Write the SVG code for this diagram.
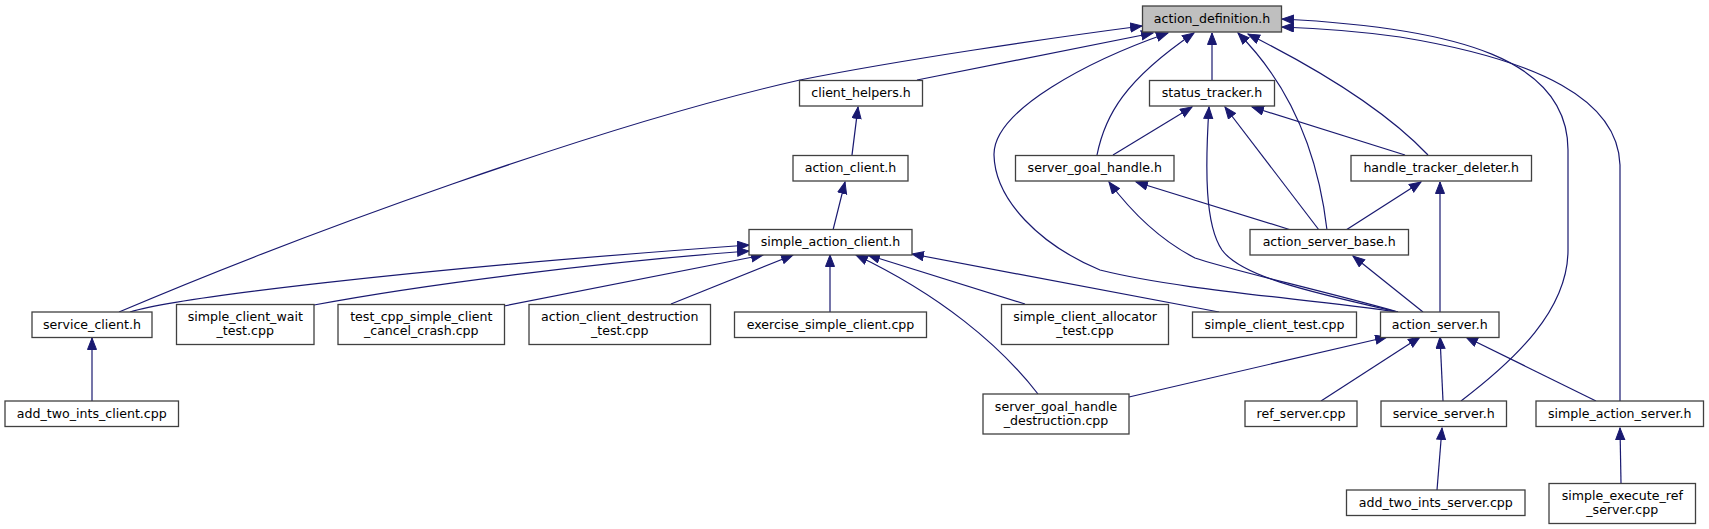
<svg xmlns="http://www.w3.org/2000/svg" width="1709" height="529" viewBox="0 0 1709 529">
<style>
.n rect{fill:#ffffff;stroke:#404040;stroke-width:1.3}
.n.root rect{fill:#bfbfbf}
.n text{font-family:"DejaVu Sans","Liberation Sans",sans-serif;font-size:12.6px;fill:#000;text-anchor:middle}
.e path{fill:none;stroke:#191970;stroke-width:1.2;marker-end:url(#ah)}
</style>
<defs>
<marker id="ah" markerUnits="userSpaceOnUse" markerWidth="14" markerHeight="12" refX="12" refY="5" orient="auto">
<path d="M0.5,0.5 L12,5 L0.5,9.5 z" fill="#191970" stroke="#191970" stroke-width="1"/>
</marker>
</defs>
<rect width="1709" height="529" fill="#ffffff"/>
<g id="edges" class="e">
<path d="M917,80 L1153,33"/>
<path d="M119,312 C300,235 600,125 800,80 C900,60 1050,38 1142,26"/>
<path d="M1212,80 L1212,33"/>
<path d="M1097,155 C1105,115 1125,80 1194,33"/>
<path d="M1398,312 C1300,298 1180,290 1100,270 C1040,245 995,200 994,155 C993,110 1090,60 1168,33"/>
<path d="M1327,230 C1320,170 1300,95 1238,33"/>
<path d="M1428,155 C1390,115 1330,75 1248,34"/>
<path d="M1461,401 C1515,360 1568,310 1568,250 L1568,150 C1568,60 1460,28 1282,19"/>
<path d="M1620,401 L1620,165 C1618,100 1540,60 1400,37 C1350,30 1310,28 1282,27"/>
<path d="M1113,155 L1192,107"/>
<path d="M1319,230 L1225,107"/>
<path d="M1405,155 L1252,107"/>
<path d="M1398,312 C1300,290 1240,275 1222,250 C1205,225 1205,170 1209,107"/>
<path d="M852,155 L858,107"/>
<path d="M833,230 L845,182"/>
<path d="M1291,230 L1136,182"/>
<path d="M1398,312 C1320,290 1230,270 1195,258 C1160,240 1130,210 1109,182"/>
<path d="M1346,230 L1421,182"/>
<path d="M1440,312 L1440,182"/>
<path d="M1423,312 L1353,256"/>
<path d="M130,312 C175,298 400,270 749,245"/>
<path d="M314,305 C420,285 600,262 749,251"/>
<path d="M504,306 L763,255"/>
<path d="M671,304 L793,255"/>
<path d="M830,312 L830,255"/>
<path d="M1038,394 C1000,345 940,295 856,255"/>
<path d="M1025,304 L868,255"/>
<path d="M1219,312 L912,254"/>
<path d="M1129,397 L1387,337"/>
<path d="M1321,401 L1420,337"/>
<path d="M1443,401 L1440,337"/>
<path d="M1596,401 L1466,337"/>
<path d="M92,401 L92,338"/>
<path d="M1437,490 L1442,428"/>
<path d="M1621,483 L1620,428"/>
</g>
<g id="action_definition" class="n root"><rect x="1142.5" y="6" width="139" height="26"/><text x="1212" y="23">action_definition.h</text></g>
<g id="client_helpers" class="n"><rect x="799.5" y="80.5" width="123" height="25.5"/><text x="861" y="97.3">client_helpers.h</text></g>
<g id="status_tracker" class="n"><rect x="1149.5" y="80.5" width="125" height="25.5"/><text x="1212" y="97.3">status_tracker.h</text></g>
<g id="action_client" class="n"><rect x="793" y="155.5" width="115" height="25.5"/><text x="850.5" y="172.3">action_client.h</text></g>
<g id="server_goal_handle" class="n"><rect x="1015.5" y="155.5" width="158.5" height="25.5"/><text x="1094.75" y="172.3">server_goal_handle.h</text></g>
<g id="handle_tracker_deleter" class="n"><rect x="1351" y="155.5" width="180.5" height="25.5"/><text x="1441.25" y="172.3">handle_tracker_deleter.h</text></g>
<g id="simple_action_client" class="n"><rect x="749" y="229.5" width="163" height="25.5"/><text x="830.5" y="246.3">simple_action_client.h</text></g>
<g id="action_server_base" class="n"><rect x="1250" y="229.5" width="158.5" height="25.5"/><text x="1329.25" y="246.3">action_server_base.h</text></g>
<g id="service_client" class="n"><rect x="32" y="312" width="120" height="25.5"/><text x="92" y="328.8">service_client.h</text></g>
<g id="simple_client_wait_test" class="n"><rect x="176.5" y="304.5" width="137.5" height="40"/><text x="245.25" y="321">simple_client_wait</text><text x="245.25" y="335">_test.cpp</text></g>
<g id="test_cpp_simple_client_cancel_crash" class="n"><rect x="338" y="304.5" width="166.5" height="40"/><text x="421.25" y="321">test_cpp_simple_client</text><text x="421.25" y="335">_cancel_crash.cpp</text></g>
<g id="action_client_destruction_test" class="n"><rect x="529" y="304.5" width="181.5" height="40"/><text x="619.75" y="321">action_client_destruction</text><text x="619.75" y="335">_test.cpp</text></g>
<g id="exercise_simple_client" class="n"><rect x="734.5" y="312" width="192" height="25.5"/><text x="830.5" y="328.8">exercise_simple_client.cpp</text></g>
<g id="simple_client_allocator_test" class="n"><rect x="1001.5" y="304.5" width="167" height="40"/><text x="1085" y="321">simple_client_allocator</text><text x="1085" y="335">_test.cpp</text></g>
<g id="simple_client_test" class="n"><rect x="1192.5" y="312" width="164" height="25.5"/><text x="1274.5" y="328.8">simple_client_test.cpp</text></g>
<g id="action_server" class="n"><rect x="1380.5" y="312" width="118.5" height="25.5"/><text x="1439.75" y="328.8">action_server.h</text></g>
<g id="add_two_ints_client" class="n"><rect x="5" y="401" width="173.5" height="25.5"/><text x="91.75" y="417.8">add_two_ints_client.cpp</text></g>
<g id="server_goal_handle_destruction" class="n"><rect x="983" y="394" width="146" height="40"/><text x="1056" y="410.5">server_goal_handle</text><text x="1056" y="424.5">_destruction.cpp</text></g>
<g id="ref_server" class="n"><rect x="1245" y="401" width="112" height="25.5"/><text x="1301" y="417.8">ref_server.cpp</text></g>
<g id="service_server" class="n"><rect x="1381" y="401" width="125.5" height="25.5"/><text x="1443.75" y="417.8">service_server.h</text></g>
<g id="simple_action_server" class="n"><rect x="1536" y="401" width="167.5" height="25.5"/><text x="1619.75" y="417.8">simple_action_server.h</text></g>
<g id="add_two_ints_server" class="n"><rect x="1346.5" y="490" width="178.5" height="25.5"/><text x="1435.75" y="506.8">add_two_ints_server.cpp</text></g>
<g id="simple_execute_ref_server" class="n"><rect x="1549" y="483.5" width="146.5" height="40"/><text x="1622.25" y="500">simple_execute_ref</text><text x="1622.25" y="514">_server.cpp</text></g>
</svg>
